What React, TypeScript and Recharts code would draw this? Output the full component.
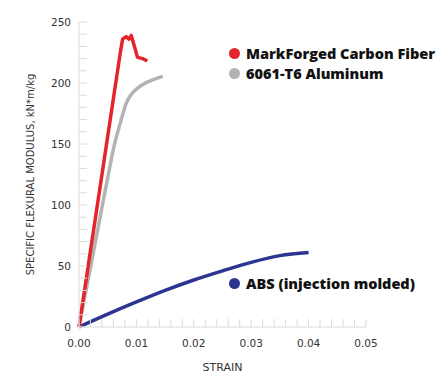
import { Line, LineChart, XAxis, YAxis } from "recharts";

// strain / specific flexural modulus
const carbonStrain = [0, 0.0072, 0.0076, 0.0082, 0.0087, 0.0091, 0.0096, 0.0102, 0.0111, 0.0119];
const carbonModulus = [0, 225, 236, 238, 236, 239, 231, 221, 220, 218];

const aluStrain = [0, 0.0025, 0.0049, 0.0062, 0.007, 0.0076, 0.0082, 0.009, 0.01, 0.0112, 0.0128, 0.0146];
const aluModulus = [0, 61, 120, 150, 164, 174, 183, 190, 195, 199, 202.5, 205.5];

const absStrain = [0, 0.005, 0.01, 0.015, 0.02, 0.025, 0.03, 0.035, 0.04];
const absModulus = [0, 10.5, 20.5, 30, 38.5, 46, 53, 58.5, 61];

const seriesNames = ["MarkForged Carbon Fiber", "6061-T6 Aluminum", "ABS (injection molded)"];

const yMajor = [0, 50, 100, 150, 200, 250];
const xMajor = [0, 0.01, 0.02, 0.03, 0.04, 0.05];
// minor tick marks: every 10 on y, every 0.002 on x
const yTicks = Array.from({ length: 26 }, (_, i) => i * 10);
const xTicks = Array.from({ length: 26 }, (_, i) => Math.round(i * 2) / 1000);

const RED = "#e5242b";
const GRAY = "#b3b3b3";
const BLUE = "#2c3591";
const AXIS = "#dadada";
const FONT = "'DejaVu Sans', sans-serif";

const toPoints = (xs: number[], ys: number[]) => xs.map((x, i) => ({ x, y: ys[i] }));

function YTick({ x, y, payload }: any) {
  const ax = x + 8;
  const major = yMajor.includes(payload.value);
  return (
    <g>
      <line x1={ax} x2={ax + 8} y1={y} y2={y} stroke={AXIS} />
      {major && (
        <text x={x} y={y} dy={4} textAnchor="end" fontSize={10.5} fill="#333" fontFamily={FONT}>
          {payload.value}
        </text>
      )}
    </g>
  );
}

function XTick({ x, y, payload }: any) {
  const major = xMajor.some((m) => Math.abs(m - payload.value) < 1e-6);
  return (
    <g>
      <line x1={x} x2={x} y1={y} y2={y - 8} stroke={AXIS} />
      {major && (
        <text x={x} y={y + 20} textAnchor="middle" fontSize={10.5} fill="#333" fontFamily={FONT}>
          {payload.value.toFixed(2)}
        </text>
      )}
    </g>
  );
}

function LegendItem({ color, label, left, top }: { color: string; label: string; left: number; top: number }) {
  return (
    <div
      style={{
        position: "absolute",
        left,
        top,
        display: "flex",
        alignItems: "center",
        height: 14,
        fontFamily: "'Open Sans', sans-serif",
        fontWeight: 800,
        fontSize: 14.5,
        color: "#111",
        whiteSpace: "nowrap",
      }}
    >
      <span
        style={{ width: 11, height: 11, borderRadius: "50%", background: color, marginRight: 6, flex: "none" }}
      />
      {label}
    </div>
  );
}

export default function App() {
  return (
    <div style={{ position: "absolute", left: 0, top: 0, width: 441, height: 376, background: "#fff" }}>
      <LineChart width={441} height={376} margin={{ top: 22, right: 75, bottom: 0, left: 0 }}>
        <XAxis
          type="number"
          dataKey="x"
          domain={[0, 0.05]}
          ticks={xTicks}
          interval={0}
          tickSize={0}
          tickMargin={0}
          tick={<XTick />}
          axisLine={{ stroke: AXIS }}
          height={49}
          label={{
            value: "STRAIN",
            position: "insideBottom",
            offset: 5,
            fontSize: 11,
            fill: "#333",
            fontFamily: FONT,
          }}
        />
        <YAxis
          type="number"
          dataKey="y"
          domain={[0, 250]}
          ticks={yTicks}
          interval={0}
          tickSize={0}
          tickMargin={8}
          tick={<YTick />}
          axisLine={{ stroke: AXIS }}
          width={79}
          label={{
            value: "SPECIFIC FLEXURAL MODULUS, kN*m/kg",
            angle: -90,
            position: "insideLeft",
            offset: 30,
            fontSize: 10,
            fill: "#333",
            fontFamily: FONT,
            style: { textAnchor: "middle" },
          }}
        />
        <Line
          data={toPoints(absStrain, absModulus)}
          dataKey="y"
          type="monotone"
          stroke={BLUE}
          strokeWidth={3.5}
          dot={false}
          isAnimationActive={false}
        />
        <Line
          data={toPoints(aluStrain, aluModulus)}
          dataKey="y"
          type="monotone"
          stroke={GRAY}
          strokeWidth={3.5}
          dot={false}
          isAnimationActive={false}
        />
        <Line
          data={toPoints(carbonStrain, carbonModulus)}
          dataKey="y"
          type="linear"
          stroke={RED}
          strokeWidth={3.5}
          strokeLinejoin="round"
          dot={false}
          isAnimationActive={false}
        />
      </LineChart>
      <LegendItem color={RED} label={seriesNames[0]} left={229} top={46} />
      <LegendItem color={GRAY} label={seriesNames[1]} left={229} top={66} />
      <LegendItem color={BLUE} label={seriesNames[2]} left={229} top={276} />
    </div>
  );
}
